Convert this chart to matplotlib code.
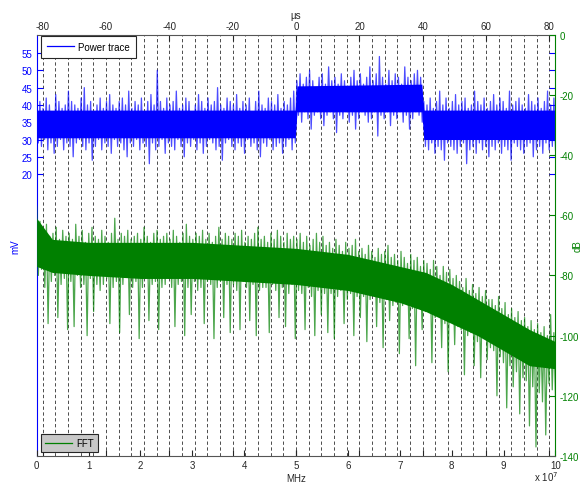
import numpy as np
import matplotlib
matplotlib.use('Agg')
import matplotlib.pyplot as plt
from matplotlib.ticker import MultipleLocator

plt.rcParams['font.family'] = ['Liberation Sans', 'DejaVu Sans']
plt.rcParams['font.size'] = 7

# ---------------- data ----------------
# Power trace: successive peak (hi) / trough (lo) values in mV,
# evenly spaced in time from -81.9 us to 81.9 us
power_hi = [
    # before 0 us
    40, 41, 39, 42, 40, 38, 43, 41, 39, 40,
    44, 41, 40, 39, 42, 45, 40, 41, 38, 40,
    42, 39, 41, 43, 40, 39, 41, 42, 40, 44,
    39, 41, 40, 42, 38, 41, 43, 40, 50, 41,
    39, 42, 40, 41, 44, 39, 40, 42, 41, 38,
    40, 43, 41, 39, 42, 40, 41, 45, 40, 39,
    42, 41, 40, 43, 39, 41, 40, 42, 38, 41,
    44, 40, 39, 42, 41, 40, 43, 39, 41, 40,
    42, 44,
    # 0 .. 40 us
    47, 49, 46, 48, 50, 47, 45, 48, 49, 46,
    51, 47, 48, 46, 49, 47, 45, 48, 50, 47,
    49, 46, 48, 51, 47, 49, 54, 48, 46, 50,
    47, 49, 48, 46, 51, 48, 47, 49, 50, 48,
    # after 40 us
    41, 40, 42, 39, 41, 44, 40, 42, 39, 41,
    43, 40, 41, 42, 39, 40, 44, 41, 40, 42,
    39, 41, 43, 40, 42, 41, 39, 44, 40, 41,
    42, 40, 39, 43, 41, 40, 42, 39, 41, 44,
    40, 42,
]
power_lo = [
    29, 28, 30, 27, 29, 26, 28, 30, 27, 29,
    28, 25, 29, 30, 28, 27, 29, 24, 28, 30,
    27, 29, 28, 26, 30, 28, 29, 27, 25, 29,
    28, 30, 27, 29, 28, 23, 29, 27, 28, 30,
    26, 29, 28, 27, 30, 28, 25, 29, 28, 30,
    27, 29, 26, 28, 30, 29, 27, 28, 24, 29,
    30, 28, 27, 29, 28, 26, 30, 28, 29, 27,
    25, 29, 28, 30, 27, 28, 29, 26, 28, 30,
    27, 29,
    37, 35, 38, 36, 33, 37, 38, 36, 34, 37,
    38, 36, 32, 37, 36, 38, 35, 37, 33, 36,
    38, 37, 35, 36, 38, 31, 37, 36, 38, 34,
    37, 36, 38, 35, 37, 33, 36, 38, 37, 35,
    28, 27, 29, 26, 28, 27, 24, 29, 28, 27,
    26, 28, 29, 23, 27, 28, 26, 29, 27, 28,
    25, 28, 27, 29, 26, 28, 27, 24, 29, 28,
    27, 26, 28, 29, 25, 27, 28, 26, 29, 27,
    28, 27,
]
time_range_us = (-81.9, 81.9)
# dense (solid) core of the power trace
power_core_t = [-81.9, -0.3, 0.3, 39.7, 40.3, 81.9]
power_core_top = [38.5, 38.5, 45.5, 46.0, 38.5, 38.5]
power_core_bot = [30.5, 30.5, 38.0, 38.0, 30.0, 30.0]

# FFT: successive peak (hi) / trough (lo) values in dB,
# evenly spaced in frequency from 0 to 1e8 Hz
fft_hi = [
    -57, -62, -65, -63, -67, -66, -64, -68, -65, -67,
    -66, -68, -63, -67, -65, -69, -66, -64, -67, -68,
    -65, -67, -69, -66, -61, -68, -66, -67, -65, -68,
    -67, -66, -68, -64, -67, -69, -66, -65, -68, -67,
    -66, -68, -65, -67, -69, -66, -63, -67, -68, -66,
    -67, -65, -68, -66, -69, -67, -64, -68, -66, -67,
    -68, -66, -67, -65, -69, -67, -68, -66, -64, -68,
    -67, -69, -66, -68, -65, -67, -69, -66, -68, -67,
    -68, -66, -69, -67, -70, -68, -66, -69, -67, -70,
    -69, -71, -68, -70, -72, -69, -71, -70, -68, -72,
    -71, -73, -70, -72, -74, -71, -73, -72, -70, -74,
    -73, -75, -72, -74, -76, -73, -75, -74, -77, -75,
    -76, -78, -75, -77, -80, -77, -79, -78, -81, -80,
    -82, -84, -81, -85, -83, -86, -84, -87, -85, -88,
    -88, -90, -87, -91, -89, -93, -91, -94, -92, -95,
    -94, -97, -95, -98, -96, -99, -97, -100, -93, -99,
]
fft_lo = [
    -80, -78, -84, -96, -82, -80, -94, -83, -81, -98,
    -82, -97, -80, -84, -83, -100, -81, -92, -83, -85,
    -83, -81, -96, -84, -82, -99, -83, -80, -93, -84,
    -82, -101, -84, -81, -95, -83, -82, -98, -84, -83,
    -81, -84, -97, -83, -82, -100, -84, -93, -82, -85,
    -84, -96, -82, -83, -101, -84, -82, -94, -83, -99,
    -83, -85, -98, -82, -84, -95, -83, -100, -85, -84,
    -84, -99, -83, -85, -94, -84, -97, -86, -83, -101,
    -85, -86, -98, -84, -87, -100, -85, -93, -86, -99,
    -86, -101, -87, -85, -96, -88, -86, -100, -87, -94,
    -87, -102, -88, -86, -97, -89, -104, -88, -95, -90,
    -89, -106, -90, -88, -101, -91, -110, -90, -98, -92,
    -92, -109, -94, -93, -104, -96, -112, -95, -103, -97,
    -98, -113, -100, -99, -110, -102, -114, -101, -108, -104,
    -105, -120, -107, -109, -124, -110, -117, -112, -126, -114,
    -115, -130, -117, -137, -119, -122, -133, -116, -118, -121,
]
freq_range_hz = (0.0, 1e8)
# dense (solid) core of the FFT, frequency in units of 1e7 Hz
fft_core_f = [0, 0.3, 1, 2, 3, 4, 5, 6, 6.5, 7, 7.5, 8, 8.5, 9, 9.5, 10]
fft_core_top = [-61, -68, -69, -69, -69, -70, -71, -73, -75, -77, -79, -83,
                -88, -93, -98, -102]
fft_core_bot = [-77, -79, -80, -81, -81, -82, -83, -85, -87, -89, -92, -96,
                -100, -105, -110, -111]

us_ticks = [-80, -60, -40, -20, 0, 20, 40, 60, 80]
mv_ticks = [20, 25, 30, 35, 40, 45, 50, 55]
db_ticks = [0, -20, -40, -60, -80, -100, -120, -140]
mhz_ticks = [0, 1, 2, 3, 4, 5, 6, 7, 8, 9, 10]


def zigzag(hi, lo, rng):
    n = min(len(hi), len(lo))
    y = np.empty(2 * n)
    y[0::2] = hi[:n]
    y[1::2] = lo[:n]
    x = np.linspace(rng[0], rng[1], 2 * n)
    return x, y


BLUE = '#0000ff'
GREEN = '#008000'
DARK = '#262626'

W, H = 585, 485
fig = plt.figure(figsize=(W / 100, H / 100), dpi=100)
L, R, T, B = 36.7, 555.5, 35.7, 457.0
pos = [L / W, 1 - B / H, (R - L) / W, (B - T) / H]

ax_p = fig.add_axes(pos)           # power trace: top x axis, left y axis
ax_f = fig.add_axes(pos)           # FFT: bottom x axis, right y axis
ax_f.patch.set_visible(False)

# ---- power axes ----
ax_p.fill_between(power_core_t, power_core_bot, power_core_top,
                  color=BLUE, lw=0, zorder=3)
px, py = zigzag(power_hi, power_lo, time_range_us)
ax_p.plot(px, py, color=BLUE, lw=0.9, alpha=0.7, zorder=3)
ax_p.plot([], [], color=BLUE, lw=0.9, label='Power trace')
ax_p.set_xlim(*time_range_us)
ax_p.set_ylim(-61.5, 60.3)
ax_p.set_xticks(us_ticks)
ax_p.set_xticklabels([str(v) for v in us_ticks])
ax_p.xaxis.set_minor_locator(MultipleLocator(4))
ax_p.set_yticks(mv_ticks)
ax_p.set_yticklabels([str(v) for v in mv_ticks])
ax_p.tick_params(axis='x', which='major', direction='in', top=True, bottom=True,
                 labeltop=True, labelbottom=False, length=4, width=0.8,
                 colors=DARK, pad=2.5)
ax_p.tick_params(axis='x', which='minor', length=0, top=False, bottom=False)
ax_p.tick_params(axis='y', direction='in', left=True, right=True,
                 labelleft=True, labelright=False, length=4, width=0.8,
                 colors=BLUE, pad=3)
ax_p.xaxis.set_label_position('top')
ax_p.set_xlabel('µs', color=DARK, labelpad=2.5)
ax_p.set_ylabel('mV', color=BLUE, labelpad=1)
ax_p.grid(True, which='both', axis='x', color='#303030', lw=0.6,
          linestyle=(0, (4, 3)))
ax_p.set_axisbelow(True)
for s in ('right', 'bottom'):
    ax_p.spines[s].set_visible(False)
ax_p.spines['left'].set_color(BLUE)
ax_p.spines['top'].set_color('#555555')
leg1 = ax_p.legend(loc='upper left', bbox_to_anchor=(0.009, 0.997),
                   borderaxespad=0, fancybox=False, framealpha=1,
                   edgecolor=DARK, handlelength=2.8, handletextpad=0.4,
                   borderpad=0.6, fontsize=7)
leg1.get_frame().set_linewidth(0.8)

# ---- FFT axes ----
ax_f.fill_between([v * 1e7 for v in fft_core_f], fft_core_bot, fft_core_top,
                  color=GREEN, lw=0, zorder=3)
fx, fy = zigzag(fft_hi, fft_lo, freq_range_hz)
ax_f.plot(fx, fy, color=GREEN, lw=0.9, alpha=0.7, zorder=3)
ax_f.plot([], [], color=GREEN, lw=0.9, label='FFT')
ax_f.set_xlim(*freq_range_hz)
ax_f.set_ylim(-140, 0)
ax_f.set_xticks([v * 1e7 for v in mhz_ticks])
ax_f.set_xticklabels([str(v) for v in mhz_ticks])
ax_f.set_yticks(db_ticks)
ax_f.set_yticklabels([str(v) for v in db_ticks])
ax_f.yaxis.tick_right()
ax_f.tick_params(axis='x', direction='in', bottom=True, top=False,
                 labelbottom=True, length=4, width=0.8, colors=DARK, pad=3)
ax_f.tick_params(axis='y', direction='in', right=True, left=False,
                 labelright=True, labelleft=False, length=4, width=0.8,
                 colors=GREEN, pad=3)
ax_f.set_xlabel('MHz', color=DARK, labelpad=2)
for s in ('left', 'top'):
    ax_f.spines[s].set_visible(False)
ax_f.spines['right'].set_color(GREEN)
ax_f.spines['bottom'].set_color('#555555')
leg2 = ax_f.legend(loc='lower left', bbox_to_anchor=(0.009, 0.009),
                   borderaxespad=0, fancybox=False, framealpha=1,
                   facecolor='#c8c8c8', edgecolor=DARK, handlelength=2.8,
                   handletextpad=0.4, borderpad=0.4, fontsize=7)
leg2.get_frame().set_linewidth(0.8)

fig.text(578 / W, 1 - 246 / H, 'dB', rotation=90, fontsize=7, color=GREEN,
         ha='center', va='center')
fig.text(534 / W, 1 - 477 / H, r'x 10$^7$', fontsize=7, color=DARK,
         ha='left', va='center')

fig.savefig('out.png', dpi=100)
